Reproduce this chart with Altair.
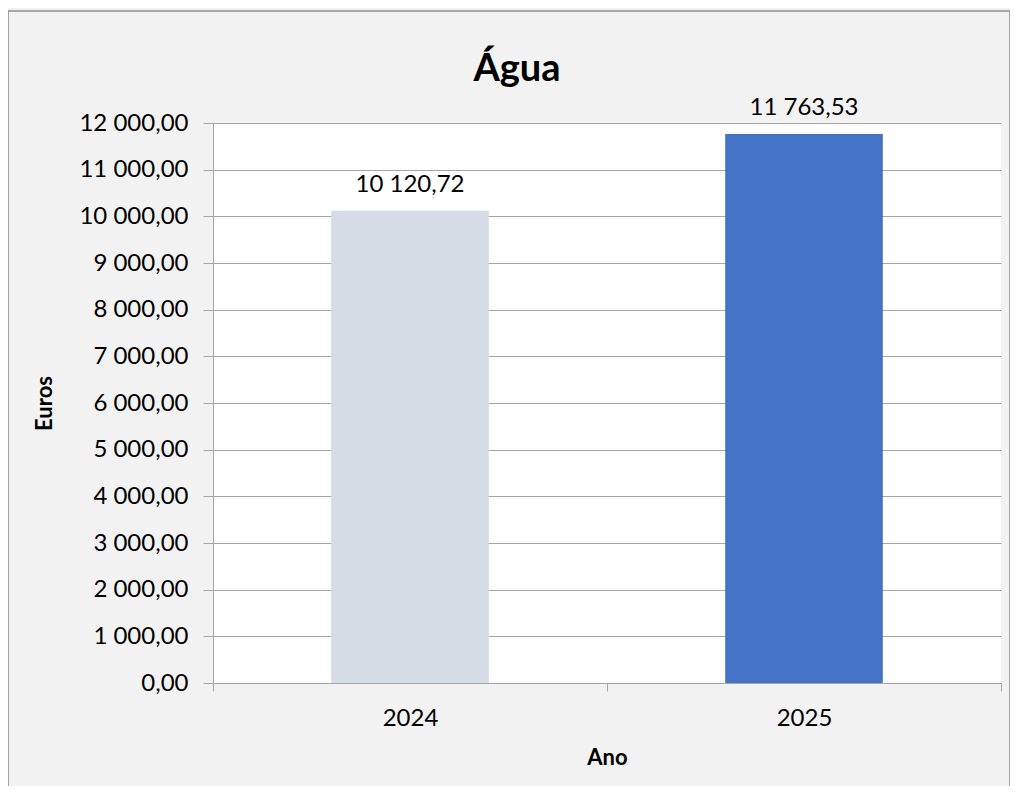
import altair as alt
import pandas as pd

titulo = "Água"
anos = ["2024", "2025"]
valores = [10120.72, 11763.53]
cores = ["#d6dce5", "#4472c4"]
ticks_y = [0, 1000, 2000, 3000, 4000, 5000, 6000, 7000, 8000, 9000, 10000, 11000, 12000]

df = pd.DataFrame({"Ano": anos, "Euros": valores, "Cor": cores})

FONT = "Lato"
W, H = 788, 560

x = alt.X("Ano:N", title="Ano",
          scale=alt.Scale(paddingInner=0, paddingOuter=0),
          axis=alt.Axis(labelAngle=0, labelFontSize=24, labelColor="black",
                        labelPadding=15, tickSize=8, tickColor="#a6a6a6",
                        domainColor="#a6a6a6", tickBand="extent",
                        titleFontSize=22, titleFontWeight="bold", titleColor="black",
                        titlePadding=17))
y = alt.Y("Euros:Q", title="Euros",
          scale=alt.Scale(domain=[0, 12000], nice=False),
          axis=alt.Axis(values=ticks_y, format=",.2f", labelFontSize=24, labelColor="black",
                        labelPadding=15, tickSize=10, tickColor="#a6a6a6",
                        domainColor="#a6a6a6", gridColor="#a6a6a6",
                        titleFontSize=22, titleFontWeight="bold", titleColor="black",
                        titlePadding=22))

bars = alt.Chart(df).mark_bar(width=alt.RelativeBandSize(0.4)).encode(
    x=x, y=y, color=alt.Color("Cor:N", scale=None)
)
labels = alt.Chart(df).mark_text(fontSize=24, dy=-19, baseline="alphabetic", color="black", font=FONT).encode(
    x="Ano:N", y="Euros:Q", text=alt.Text("Euros:Q", format=",.2f")
)
title = alt.Chart(pd.DataFrame({"t": [titulo]})).mark_text(
    fontSize=38, fontWeight="bold", font=FONT, color="black", baseline="alphabetic", align="center"
).encode(x=alt.value(304), y=alt.value(-42), text="t:N")
border = alt.Chart(pd.DataFrame({"a": [0]})).mark_rect(fill=None, stroke="#8c8c8c", strokeWidth=1.5).encode(
    x=alt.value(-205), x2=alt.value(W + 9), y=alt.value(-112), y2=alt.value(H + 200)
)

chart = alt.layer(bars, labels, title, border).properties(
    width=W, height=H,
    autosize=alt.AutoSizeParams(type="none"),
    padding={"left": 205, "top": 115, "right": 9, "bottom": 103},
).configure(
    background="#f2f2f2",
    font=FONT,
    locale={"number": {"decimal": ",", "thousands": " ", "grouping": [3], "currency": ["", " €"]}},
).configure_view(
    fill="white", stroke=None
)

chart.save("out.html", embed_options={"renderer": "svg", "actions": False})
